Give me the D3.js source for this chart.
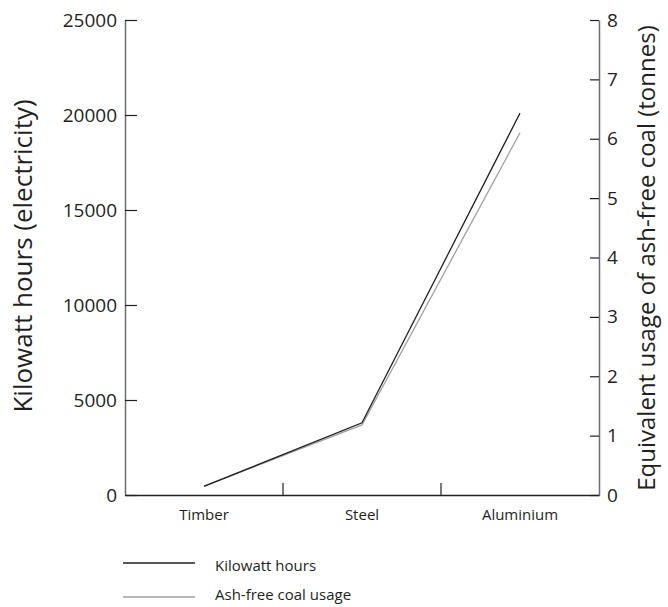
<!DOCTYPE html>
<html>
<head>
<meta charset="utf-8">
<script src="https://cdn.jsdelivr.net/npm/d3@7"></script>
<style>
body{margin:0;background:#fff;}
svg{display:block;font-family:"Open Sans",sans-serif;}
</style>
</head>
<body>
<svg id="chart" width="668" height="607"></svg>
<script>
const categories = ["Timber", "Steel", "Aluminium"];
const kwhValues = [450, 3800, 20100];
const coalValues = [0.15, 1.18, 6.1];
const leftTicks = [0, 5000, 10000, 15000, 20000, 25000];
const rightTicks = [0, 1, 2, 3, 4, 5, 6, 7, 8];
const seriesNames = ["Kilowatt hours", "Ash-free coal usage"];
const seriesColors = ["#231f20", "#a0a0a0"];

const svg = d3.select("#chart");
const mLeft = 125, mRight = 599, mTop = 20, mBottom = 495;

const x = d3.scaleBand().domain(categories).range([mLeft, mRight]).padding(0);
const yL = d3.scaleLinear().domain([0, 25000]).range([mBottom, mTop]);
const yR = d3.scaleLinear().domain([0, 8]).range([mBottom, mTop]);

// left axis
const gL = svg.append("g").attr("transform", `translate(${mLeft},0)`)
  .call(d3.axisLeft(yL).tickValues(leftTicks).tickSizeInner(-12).tickSizeOuter(0).tickPadding(8).tickFormat(d3.format("d")));
// right axis
const gR = svg.append("g").attr("transform", `translate(${mRight},0)`)
  .call(d3.axisRight(yR).tickValues(rightTicks).tickSizeInner(-9).tickSizeOuter(0).tickPadding(8));
[gL, gR].forEach(g => {
  g.select(".domain").attr("stroke", "#6d6e71").attr("stroke-width", 1.5);
  g.selectAll(".tick line").attr("stroke", "#231f20").attr("stroke-width", 1.2);
  g.selectAll(".tick text").attr("fill", "#231f20").style("font-size", "19px").style("font-family", "'Open Sans',sans-serif");
});

// x axis
const gX = svg.append("g").attr("transform", `translate(0,${mBottom})`)
  .call(d3.axisBottom(x).tickSize(0).tickPadding(14));
gX.select(".domain").attr("stroke", "#231f20").attr("stroke-width", 1.5);
gX.selectAll(".tick text").attr("fill", "#231f20").style("font-size", "15px").style("font-family", "'Open Sans',sans-serif");
// category boundary ticks
svg.append("g").selectAll("line").data(categories.slice(0, -1)).join("line")
  .attr("x1", d => x(d) + x.bandwidth()).attr("x2", d => x(d) + x.bandwidth())
  .attr("y1", mBottom).attr("y2", mBottom - 12)
  .attr("stroke", "#231f20").attr("stroke-width", 1.2);

// axis titles
svg.append("text")
  .attr("transform", `translate(32,256) rotate(-90)`)
  .attr("text-anchor", "middle").attr("fill", "#231f20")
  .style("font-size", "26px").text("Kilowatt hours (electricity)");
svg.append("text")
  .attr("transform", `translate(655,258) rotate(-90)`)
  .attr("text-anchor", "middle").attr("fill", "#231f20")
  .style("font-size", "24px").text("Equivalent usage of ash-free coal (tonnes)");

// lines
const cx = d => x(d) + x.bandwidth() / 2;
const lineL = d3.line().x((d, i) => cx(categories[i])).y(d => yL(d));
const lineR = d3.line().x((d, i) => cx(categories[i])).y(d => yR(d));
svg.append("path").datum(coalValues).attr("d", lineR)
  .attr("fill", "none").attr("stroke", seriesColors[1]).attr("stroke-width", 1.3);
svg.append("path").datum(kwhValues).attr("d", lineL)
  .attr("fill", "none").attr("stroke", seriesColors[0]).attr("stroke-width", 1.3);

// legend
const leg = svg.append("g");
seriesNames.forEach((n, i) => {
  const y = 563 + i * 34;
  leg.append("line").attr("x1", 123).attr("x2", 195).attr("y1", y).attr("y2", y)
    .attr("stroke", seriesColors[i]).attr("stroke-width", 1.3);
  leg.append("text").attr("x", 215).attr("y", 571 + i * 29).attr("fill", "#231f20")
    .style("font-size", "15px").text(n);
});
</script>
</body>
</html>
